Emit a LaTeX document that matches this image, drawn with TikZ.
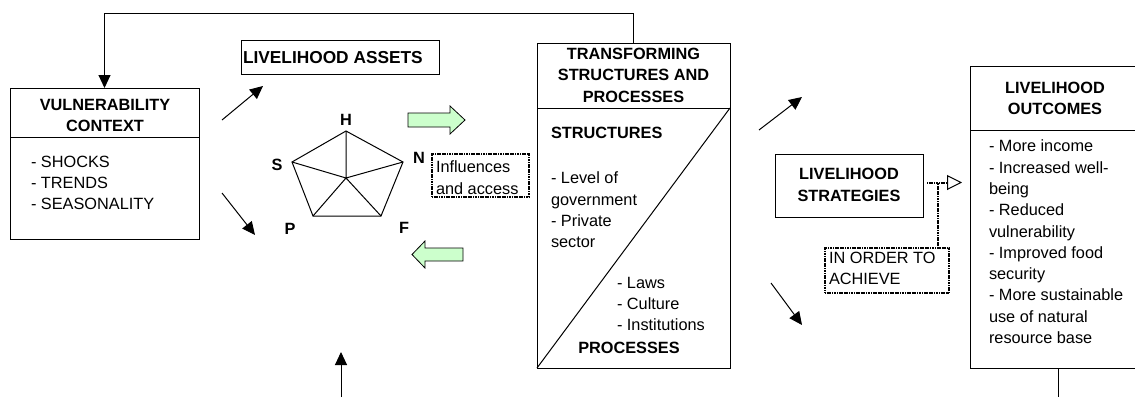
\documentclass[tikz,border=0pt]{standalone}
\usepackage{fontspec}
\setmainfont{Liberation Sans}
\usetikzlibrary{arrows.meta}
\definecolor{lgreen}{HTML}{CCFFCC}
\begin{document}
\begin{tikzpicture}[x=1pt,y=-1pt,
  every node/.style={font=\fontsize{16.3}{21.3}\selectfont, inner sep=0pt, outer sep=0pt},
  box/.style={draw, line width=1pt, anchor=north west},
  dotbox/.style={draw, line width=2pt, dash pattern=on 1.2pt off 0.5pt, anchor=north west},
  ttl/.style={font=\fontsize{16.3}{21.4}\selectfont\bfseries, align=center},
  lst/.style={align=left, anchor=north west},
  lbl/.style={font=\fontsize{16.3}{20}\selectfont\bfseries},
  arr/.style={line width=1pt, -{Triangle[length=13pt,width=12pt]}},
  thin/.style={line width=1pt},
  dotline/.style={line width=2pt, dash pattern=on 1.2pt off 0.5pt},
  garrow/.style={draw, line width=0.8pt, fill=lgreen, line join=miter}
]
\useasboundingbox (0,0) rectangle (1135,397);
\clip (0,0) rectangle (1135,397);

% ---------- Vulnerability context ----------
\node[box, minimum width=189pt, minimum height=151pt] (vc) at (10,88) {};
\draw[thin] ([yshift=-49pt]vc.north west) -- ([yshift=-49pt]vc.north east);
\node[ttl, anchor=north] (vct) at (105,99) {VULNERABILITY\\CONTEXT};
\node[lst] (vcl) at (31,156) {- SHOCKS\\- TRENDS\\- SEASONALITY};

% ---------- Livelihood assets ----------
\node[box, minimum width=198pt, minimum height=34pt] (la) at (241,40) {};
\node[font=\fontsize{17.3}{20}\selectfont\bfseries, anchor=west] (lat) at (243,57.5) {LIVELIHOOD ASSETS};

% ---------- Pentagon ----------
\coordinate (pH) at (346,131);
\coordinate (pN) at (403,162);
\coordinate (pF) at (381,216);
\coordinate (pP) at (313,216);
\coordinate (pS) at (292,162);
\coordinate (pC) at (346,178);
\draw[thin, line join=miter] (pH) -- (pN) -- (pF) -- (pP) -- (pS) -- cycle;
\draw[thin] (pC) -- (pH) (pC) -- (pN) (pC) -- (pF) (pC) -- (pP) (pC) -- (pS);
\node[lbl] (lH) at (346,120) {H};
\node[lbl] (lS) at (277,165) {S};
\node[lbl] (lN) at (419,158) {N};
\node[lbl] (lP) at (290,229) {P};
\node[lbl] (lF) at (404,228) {F};

% ---------- Green arrows ----------
\draw[garrow] (408,113) -- (450,113) -- (450,106) -- (465,120) -- (450,134) -- (450,127) -- (408,127) -- cycle;
\draw[garrow] (463,248) -- (425,248) -- (425,241) -- (412,254.5) -- (425,268) -- (425,261) -- (463,261) -- cycle;

% ---------- Influences and access ----------
\node[dotbox, minimum width=97pt, minimum height=43pt] (ia) at (432,154) {};
\node[lst] (iat) at (436,161) {Influences\\and access};

% ---------- Transforming structures and processes ----------
\node[box, minimum width=193pt, minimum height=325pt] (tsp) at (537,43) {};
\draw[thin] ([yshift=-65pt]tsp.north west) -- ([yshift=-65pt]tsp.north east);
\draw[thin] (tsp.south west) -- ([yshift=-65pt]tsp.north east);
\node[ttl, anchor=north] (tspt) at (633.5,48) {TRANSFORMING\\STRUCTURES AND\\PROCESSES};
\node[ttl, anchor=north west] (str) at (551,127) {STRUCTURES};
\node[lst] (strl) at (551,172) {- Level of\\government\\- Private\\sector};
\node[lst] (prl) at (617,277) {- Laws\\- Culture\\- Institutions};
\node[ttl, anchor=north] (pro) at (629,342) {PROCESSES};

% ---------- Livelihood strategies ----------
\node[box, minimum width=148pt, minimum height=63pt] (ls) at (775,154) {};
\node[ttl] (lst) at (849,185) {LIVELIHOOD\\STRATEGIES};

% ---------- In order to achieve ----------
\node[dotbox, minimum width=124pt, minimum height=45pt] (io) at (825,248) {};
\node[lst] (iot) at (829,252) {IN ORDER TO\\ACHIEVE};

% ---------- Livelihood outcomes ----------
\node[box, minimum width=185pt, minimum height=302pt] (lo) at (970,66) {};
\draw[thin] ([yshift=-64pt]lo.north west) -- ([yshift=-64pt]lo.north east);
\node[ttl] (lot) at (1055,98.5) {LIVELIHOOD\\OUTCOMES};
\node[lst] (lol) at (989,140) {- More income\\- Increased well-\\being\\- Reduced\\vulnerability\\- Improved food\\security\\- More sustainable\\use of natural\\resource base};

% ---------- Connectors ----------
\draw[arr] (tsp.north) -- ++(0,-30) -| (vc.north);

\coordinate (a1s) at (222,120); \coordinate (a1e) at (263,86);
\coordinate (a2s) at (222,193); \coordinate (a2e) at (255,235);
\coordinate (a3s) at (759,130); \coordinate (a3e) at (802,97);
\coordinate (a4s) at (771,283); \coordinate (a4e) at (802,325);
\coordinate (a5s) at (341,397); \coordinate (a5e) at (341,352);
\draw[arr] (a1s) -- (a1e);
\draw[arr] (a2s) -- (a2e);
\draw[arr] (a3s) -- (a3e);
\draw[arr] (a4s) -- (a4e);
\draw[arr] (a5s) -- (a5e);

\coordinate (ds) at (927,182.5);
\coordinate (de) at (962,182.5);
\coordinate (dj) at (938,182.5);
\draw[dotline, -{Triangle[open, length=15pt, width=15pt, line width=1pt, sep=0pt]}] (ds) -- (de);
\draw[dotline] (io.north -| dj) -- (dj);

\coordinate (lob) at (1058,397);
\draw[thin] (lo.south -| lob) -- (lob);
\end{tikzpicture}
\end{document}
